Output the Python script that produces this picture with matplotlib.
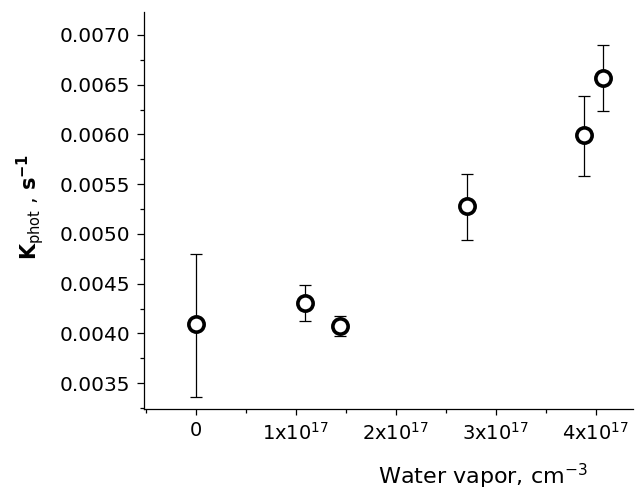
import matplotlib
matplotlib.use("Agg")
import matplotlib.pyplot as plt
import numpy as np

plt.rcParams['font.family'] = ['DejaVu Sans']
plt.rcParams['mathtext.fontset'] = 'dejavusans'

# data
water = [0.0, 1.09e17, 1.44e17, 2.71e17, 3.88e17, 4.07e17]
kphot = [0.00409, 0.00431, 0.00407, 0.00528, 0.00599, 0.006565]
err_hi = [0.00480, 0.00449, 0.00417, 0.00560, 0.00639, 0.00690]
err_lo = [0.003356, 0.00412, 0.00397, 0.00494, 0.00558, 0.00624]

xtick_vals = [0, 1e17, 2e17, 3e17, 4e17]
xtick_labels = ['0', r'1x10$^{17}$', r'2x10$^{17}$', r'3x10$^{17}$', r'4x10$^{17}$']
ytick_vals = [0.0035, 0.0040, 0.0045, 0.0050, 0.0055, 0.0060, 0.0065, 0.0070]

k = np.array(kphot)
yerr = [k - np.array(err_lo), np.array(err_hi) - k]

fig = plt.figure(figsize=(6.35, 4.92), dpi=100)
ax = fig.add_axes([0.2268, 0.1687, 0.7701, 0.8069])

# error bars first, then open circles on top
ax.errorbar(water, kphot, yerr=yerr, fmt='none', ecolor='black',
            elinewidth=0.9, capsize=4.2, capthick=0.9, zorder=2)
ax.plot(water, kphot, 'o', ms=11, mfc='white', mec='black', mew=2.6, zorder=3)

ax.set_xlim(-0.517e17, 4.37e17)
ax.set_ylim(0.00324, 0.00723)

ax.set_xticks(xtick_vals)
ax.set_xticklabels(xtick_labels)
ax.set_xticks(np.arange(-0.5e17, 4.4e17, 0.5e17), minor=True)
ax.set_yticks(ytick_vals)
ax.set_yticklabels(['%.4f' % v for v in ytick_vals])
ax.set_yticks(np.arange(0.00325, 0.0072, 0.00025), minor=True)

ax.spines['top'].set_visible(False)
ax.spines['right'].set_visible(False)
ax.spines['left'].set_linewidth(0.9)
ax.spines['bottom'].set_linewidth(0.9)
ax.tick_params(axis='y', which='major', direction='out', length=5, width=0.9, labelsize=14.5, pad=5)
ax.tick_params(axis='x', which='major', direction='out', length=4, width=0.9, labelsize=14, pad=5)
ax.tick_params(which='minor', direction='out', length=3, width=0.9)

ax.set_xlabel(r'Water vapor, cm$^{-3}$', fontsize=16)
ax.xaxis.set_label_coords(0.693, -0.133)
ax.set_ylabel(r'$\mathbf{K}_{\mathrm{phot}}$ , $\mathbf{s^{-1}}$', fontsize=15)
ax.yaxis.set_label_coords(-0.2, 0.51)

fig.savefig('out.png', dpi=100)
